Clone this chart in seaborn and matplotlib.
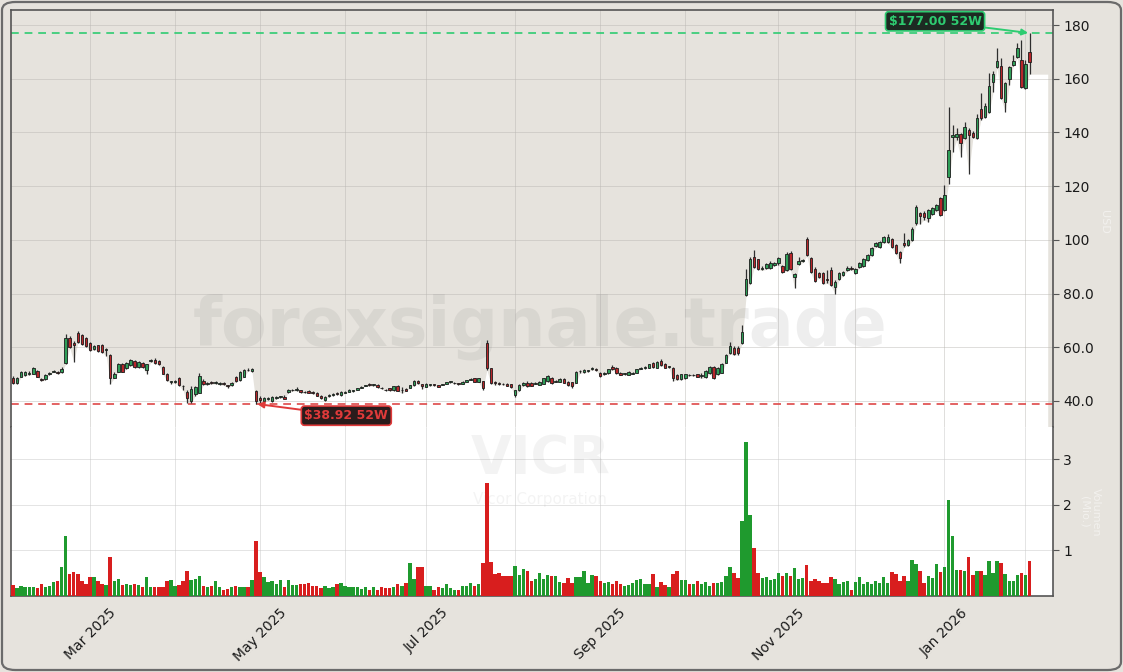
import numpy as np
import pandas as pd
import matplotlib
matplotlib.use("Agg")
import matplotlib.pyplot as plt
import seaborn as sns
from matplotlib.patches import FancyBboxPatch
from matplotlib.ticker import FuncFormatter
from pandas.tseries.offsets import CustomBusinessDay

# ---------------- data ----------------
ticker = "VICR"
company = "Vicor Corporation"
watermark = "forexsignale.trade"
start_date = "2025-02-03"
holidays = ["2025-02-17", "2025-04-18", "2025-05-26", "2025-06-19", "2025-07-04",
            "2025-09-01", "2025-11-27", "2025-12-25", "2026-01-01", "2026-01-19"]

opens = [
    48.7, 46.6, 49.0, 49.6, 50.2, 50.2, 51.2, 48.1, 48.0, 50.2,
    50.9, 50.8, 50.6, 54.0, 63.6, 61.4, 65.4, 64.5, 63.3, 61.7,
    59.4, 60.8, 60.8, 59.0, 57.1, 48.7, 50.9, 53.6, 52.1, 53.3,
    54.8, 52.7, 54.0, 51.5, 55.0, 55.4, 55.0, 52.7, 50.2, 47.0,
    47.0, 48.6, 45.6, 43.4, 40.0, 42.5, 43.0, 47.5, 46.5, 47.2,
    46.8, 46.5, 46.6, 45.8, 45.9, 49.0, 47.8, 49.0, 51.6, 51.3,
    43.8, 41.2, 40.0, 40.6, 39.9, 41.0, 41.5, 41.6, 43.5, 43.9,
    44.1, 44.0, 43.3, 43.7, 43.4, 43.1, 42.0, 40.3, 41.9, 42.3,
    42.9, 42.2, 43.1, 43.4, 43.8, 44.1, 44.9, 45.7, 46.3, 45.9,
    45.9, 44.8, 44.1, 44.9, 44.0, 45.6, 44.0, 44.6, 44.9, 45.9,
    47.4, 46.3, 45.3, 45.8, 46.2, 46.0, 46.1, 46.4, 47.0, 46.6,
    46.4, 46.3, 47.0, 47.9, 48.5, 47.1, 47.3, 61.5, 52.1, 47.0,
    46.6, 46.4, 46.4, 46.2, 42.3, 44.1, 46.0, 46.8, 46.8, 46.5,
    46.0, 46.4, 47.4, 48.4, 47.2, 47.2, 48.2, 47.2, 46.9, 46.8,
    51.0, 50.6, 51.1, 51.8, 51.8, 50.5, 50.1, 50.3, 52.7, 52.2,
    50.5, 50.0, 49.7, 50.2, 50.5, 52.0, 52.3, 52.4, 54.3, 52.4,
    55.0, 53.8, 52.6, 52.4, 49.6, 48.1, 48.4, 49.7, 49.5, 49.9,
    49.3, 48.8, 50.3, 52.8, 50.0, 50.5, 54.3, 57.7, 59.6, 59.9,
    61.5, 79.4, 84.0, 93.7, 92.7, 89.2, 89.4, 89.6, 90.7, 91.2,
    90.2, 88.7, 95.2, 86.0, 91.0, 92.3, 100.5, 93.1, 89.3, 87.5,
    87.5, 85.6, 88.7, 82.3, 85.6, 86.9, 88.7, 89.7, 87.5, 90.0,
    90.2, 92.5, 94.3, 97.7, 97.4, 99.3, 99.3, 100.2, 98.0, 95.6,
    99.0, 98.0, 99.9, 106.1, 110.0, 110.1, 108.0, 109.8, 111.0, 115.4,
    111.1, 123.5, 138.2, 138.2, 139.4, 137.8, 141.0, 139.9, 137.8, 148.9,
    145.9, 147.7, 158.9, 164.5, 164.8, 151.4, 159.9, 165.1, 168.2, 167.0,
    156.4, 169.8]

highs = [
    49.3, 49.0, 51.0, 51.3, 51.0, 52.5, 51.6, 48.6, 50.0, 50.9,
    51.6, 51.3, 52.6, 65.1, 64.2, 62.3, 66.0, 64.9, 63.7, 62.0,
    60.8, 61.0, 61.1, 59.6, 57.6, 50.6, 54.0, 54.2, 54.4, 55.8,
    55.2, 55.0, 54.4, 53.9, 55.6, 56.1, 55.4, 53.0, 50.5, 47.6,
    47.8, 48.9, 46.0, 44.0, 45.5, 45.6, 50.5, 48.0, 47.2, 47.6,
    47.3, 47.0, 47.0, 46.0, 47.0, 49.4, 51.2, 51.8, 52.3, 52.1,
    44.0, 41.9, 41.6, 41.5, 41.9, 41.9, 42.0, 42.1, 44.6, 44.5,
    45.2, 44.2, 43.8, 43.9, 43.6, 43.3, 42.2, 41.9, 42.5, 42.9,
    43.2, 43.8, 43.6, 44.3, 44.2, 44.8, 45.5, 46.1, 46.6, 46.3,
    46.2, 45.1, 44.5, 45.0, 45.6, 45.8, 45.3, 44.9, 46.0, 47.8,
    47.7, 46.5, 46.8, 46.4, 46.3, 46.1, 46.5, 47.2, 47.5, 46.9,
    46.6, 47.3, 47.9, 48.4, 48.6, 48.6, 47.5, 62.7, 52.4, 47.6,
    47.0, 46.8, 46.6, 46.5, 44.2, 46.2, 46.9, 47.3, 47.1, 46.9,
    47.4, 48.6, 49.7, 48.8, 47.7, 48.4, 48.5, 47.5, 47.1, 51.2,
    51.7, 51.8, 51.6, 52.6, 52.2, 50.8, 50.6, 52.0, 53.5, 52.5,
    50.8, 50.5, 51.1, 50.7, 52.0, 52.5, 52.9, 53.9, 54.6, 54.8,
    55.5, 54.1, 53.1, 52.7, 49.9, 50.2, 50.1, 50.0, 49.9, 50.2,
    50.4, 51.5, 53.0, 53.1, 52.6, 54.2, 57.4, 62.0, 60.3, 60.4,
    68.2, 89.3, 93.5, 96.2, 93.0, 90.2, 91.5, 92.0, 91.8, 93.6,
    90.8, 95.5, 96.0, 87.6, 93.5, 93.0, 100.9, 93.5, 89.8, 88.0,
    88.2, 88.7, 90.0, 85.0, 88.2, 88.5, 90.2, 90.1, 89.7, 91.6,
    93.1, 94.7, 97.2, 99.3, 99.7, 101.3, 102.2, 100.6, 98.4, 96.0,
    102.5, 100.3, 104.6, 113.0, 110.5, 110.6, 111.5, 112.1, 113.5, 116.0,
    120.4, 149.6, 142.8, 141.6, 139.9, 144.0, 141.5, 140.4, 147.0, 154.8,
    151.0, 162.0, 163.0, 171.3, 167.6, 158.8, 164.9, 169.0, 173.2, 174.6,
    167.0, 177.0]

lows = [
    46.5, 46.3, 48.8, 49.4, 49.6, 50.0, 48.8, 47.3, 47.8, 49.8,
    50.6, 50.0, 50.4, 53.8, 59.8, 54.6, 61.7, 60.9, 60.1, 58.6,
    59.0, 58.4, 58.0, 56.9, 46.5, 48.4, 50.6, 50.6, 51.8, 53.0,
    52.4, 52.4, 52.4, 50.0, 54.6, 53.8, 53.4, 49.9, 47.5, 46.5,
    46.6, 45.6, 43.9, 39.2, 39.2, 42.0, 42.8, 45.9, 46.0, 46.2,
    46.3, 46.0, 45.8, 44.9, 45.6, 47.1, 47.6, 48.8, 51.1, 50.9,
    38.92, 39.4, 39.5, 40.2, 39.6, 40.7, 41.2, 40.6, 43.1, 43.6,
    43.8, 43.1, 42.8, 43.0, 42.7, 41.8, 40.9, 40.0, 41.6, 42.0,
    42.4, 42.0, 42.8, 43.2, 43.5, 43.9, 44.7, 45.4, 45.5, 45.6,
    45.0, 44.3, 43.8, 43.8, 43.8, 43.6, 42.9, 43.6, 44.7, 45.7,
    46.4, 44.6, 45.1, 45.6, 45.6, 45.1, 45.9, 46.2, 46.8, 46.3,
    46.0, 46.2, 46.9, 47.8, 47.0, 47.0, 44.2, 51.5, 46.5, 46.0,
    46.1, 45.9, 45.5, 45.0, 41.6, 43.8, 45.6, 45.2, 45.4, 46.2,
    45.8, 46.2, 47.2, 46.4, 46.9, 47.0, 46.6, 45.7, 45.0, 46.6,
    50.5, 50.4, 50.8, 51.6, 51.3, 48.9, 49.8, 50.1, 51.6, 50.1,
    49.5, 49.8, 49.5, 50.0, 50.3, 51.8, 52.0, 52.2, 52.3, 52.2,
    53.2, 52.2, 52.3, 47.5, 47.8, 47.9, 48.2, 49.3, 49.2, 48.8,
    48.4, 48.6, 50.1, 48.2, 49.8, 50.3, 54.1, 57.5, 57.0, 57.3,
    61.2, 79.0, 83.6, 89.6, 88.9, 88.6, 89.0, 89.3, 90.2, 90.8,
    87.7, 88.3, 88.6, 81.9, 90.5, 91.6, 93.9, 87.6, 84.4, 85.8,
    83.4, 83.8, 82.7, 80.0, 85.2, 86.5, 88.3, 88.7, 87.1, 89.6,
    89.8, 92.1, 93.9, 97.3, 97.0, 98.9, 98.9, 97.0, 94.8, 91.2,
    97.5, 97.6, 99.5, 105.7, 106.0, 107.5, 106.5, 109.4, 110.6, 108.8,
    110.7, 120.8, 132.8, 137.0, 131.0, 137.4, 124.7, 137.8, 137.4, 144.8,
    145.5, 147.3, 155.0, 164.1, 152.5, 147.7, 157.5, 164.7, 167.8, 156.5,
    156.0, 161.7]

closes = [
    46.8, 48.7, 50.6, 50.9, 50.4, 52.1, 49.0, 47.7, 49.6, 50.5,
    51.2, 50.5, 51.8, 63.3, 60.2, 61.0, 62.0, 61.2, 60.4, 58.9,
    60.6, 58.7, 58.3, 59.2, 48.7, 50.2, 53.6, 50.9, 54.0, 55.4,
    52.7, 54.6, 52.7, 53.6, 55.2, 54.2, 53.7, 50.2, 47.8, 47.1,
    47.1, 45.9, 45.4, 41.0, 44.5, 45.3, 49.2, 46.5, 46.8, 46.7,
    46.9, 46.6, 46.2, 45.5, 46.8, 47.4, 50.9, 51.5, 51.4, 51.9,
    39.9, 40.4, 41.2, 41.0, 41.6, 41.5, 41.7, 40.9, 43.9, 44.1,
    44.3, 43.3, 43.2, 43.1, 42.8, 42.0, 41.2, 41.6, 42.2, 42.5,
    42.6, 43.4, 43.2, 44.0, 43.9, 44.7, 45.2, 45.8, 45.8, 45.9,
    45.1, 44.7, 44.0, 44.1, 45.5, 43.8, 44.1, 43.8, 45.9, 47.5,
    46.6, 45.6, 46.5, 46.3, 45.9, 45.2, 46.3, 47.0, 47.1, 46.7,
    46.3, 47.1, 47.8, 48.0, 47.1, 48.5, 45.0, 52.3, 46.8, 46.7,
    46.5, 46.2, 45.7, 45.3, 43.9, 45.9, 46.8, 45.4, 45.6, 46.6,
    47.1, 48.4, 49.3, 46.6, 47.4, 48.2, 46.8, 45.9, 45.7, 50.9,
    51.1, 51.5, 51.2, 52.1, 51.5, 49.2, 50.3, 51.8, 51.8, 50.3,
    49.7, 50.2, 50.9, 50.4, 51.8, 52.2, 52.6, 53.7, 52.5, 54.6,
    53.4, 52.4, 52.8, 48.4, 48.1, 49.9, 49.9, 49.6, 49.6, 49.0,
    49.5, 51.3, 52.8, 48.4, 52.4, 53.8, 57.1, 60.4, 57.4, 57.7,
    65.8, 85.6, 92.7, 90.0, 89.3, 89.6, 91.0, 91.5, 91.2, 93.1,
    88.1, 94.7, 89.0, 87.2, 92.3, 92.6, 94.3, 88.1, 84.8, 86.3,
    83.8, 85.0, 83.1, 84.4, 87.7, 88.1, 89.6, 89.1, 89.3, 91.2,
    92.7, 94.3, 96.8, 98.9, 99.3, 100.9, 101.1, 97.4, 95.2, 93.1,
    98.2, 99.9, 104.2, 112.3, 108.8, 108.6, 111.1, 111.7, 113.1, 109.2,
    116.7, 133.4, 139.0, 139.4, 135.9, 142.1, 139.0, 138.2, 145.2, 145.2,
    149.8, 157.3, 161.7, 166.6, 152.9, 158.3, 164.5, 166.6, 171.3, 157.0,
    165.5, 166.3]

volume_m = [
    0.23, 0.17, 0.21, 0.18, 0.18, 0.18, 0.17, 0.25, 0.19, 0.21,
    0.29, 0.32, 0.63, 1.31, 0.47, 0.52, 0.47, 0.33, 0.25, 0.41,
    0.41, 0.32, 0.25, 0.23, 0.85, 0.32, 0.36, 0.23, 0.25, 0.24,
    0.25, 0.23, 0.18, 0.41, 0.18, 0.18, 0.18, 0.18, 0.32, 0.34,
    0.22, 0.23, 0.32, 0.54, 0.34, 0.36, 0.43, 0.21, 0.18, 0.21,
    0.32, 0.18, 0.13, 0.14, 0.18, 0.21, 0.18, 0.18, 0.18, 0.34,
    1.20, 0.52, 0.41, 0.30, 0.32, 0.25, 0.34, 0.18, 0.34, 0.23,
    0.23, 0.25, 0.25, 0.27, 0.21, 0.21, 0.16, 0.21, 0.16, 0.19,
    0.25, 0.27, 0.21, 0.18, 0.18, 0.18, 0.15, 0.18, 0.13, 0.18,
    0.13, 0.18, 0.16, 0.16, 0.19, 0.25, 0.21, 0.27, 0.71, 0.36,
    0.63, 0.63, 0.21, 0.21, 0.12, 0.18, 0.16, 0.25, 0.16, 0.13,
    0.13, 0.21, 0.21, 0.27, 0.21, 0.25, 0.71, 2.47, 0.74, 0.47,
    0.50, 0.43, 0.43, 0.43, 0.65, 0.45, 0.58, 0.55, 0.32, 0.36,
    0.49, 0.36, 0.45, 0.43, 0.43, 0.30, 0.27, 0.39, 0.27, 0.41,
    0.41, 0.54, 0.28, 0.45, 0.43, 0.32, 0.27, 0.30, 0.25, 0.32,
    0.25, 0.21, 0.23, 0.27, 0.34, 0.36, 0.25, 0.25, 0.47, 0.18,
    0.30, 0.23, 0.18, 0.47, 0.54, 0.34, 0.34, 0.25, 0.25, 0.32,
    0.25, 0.29, 0.21, 0.27, 0.27, 0.30, 0.43, 0.63, 0.49, 0.38,
    1.64, 3.37, 1.78, 1.04, 0.49, 0.38, 0.40, 0.34, 0.36, 0.49,
    0.43, 0.49, 0.43, 0.60, 0.36, 0.38, 0.67, 0.31, 0.36, 0.31,
    0.27, 0.27, 0.40, 0.36, 0.25, 0.29, 0.33, 0.13, 0.29, 0.40,
    0.25, 0.29, 0.25, 0.33, 0.27, 0.40, 0.27, 0.51, 0.47, 0.33,
    0.43, 0.33, 0.79, 0.69, 0.54, 0.27, 0.43, 0.38, 0.69, 0.51,
    0.63, 2.10, 1.31, 0.57, 0.57, 0.55, 0.85, 0.45, 0.55, 0.54,
    0.45, 0.75, 0.49, 0.75, 0.71, 0.47, 0.33, 0.33, 0.45, 0.49,
    0.45, 0.75]

price_ticks = [40, 60, 80, 100, 120, 140, 160, 180]
volume_ticks = [1, 2, 3]

# ---------------- styling ----------------
BG = "#e6e3dd"
GREEN_BODY = "#2f9e58"
RED_BODY = "#b8262a"
WICK = "#2e2e2e"
VOL_GREEN = "#1f9a2e"
VOL_RED = "#d81e1e"
SPINE = "#555555"

sns.set_style("white")
plt.rcParams["font.family"] = ["DejaVu Sans"]

o = np.array(opens); h = np.array(highs); l = np.array(lows); c = np.array(closes)
vol = np.array(volume_m)
n = len(c)
idx = np.arange(n)
dates = pd.date_range(start_date, periods=n, freq=CustomBusinessDay(holidays=holidays))
up = c >= o

fig = plt.figure(figsize=(11.23, 6.72), dpi=100, facecolor=BG)
W, H = 1123.0, 672.0
axp = fig.add_axes([11 / W, 1 - 427 / H, 1042 / W, 417 / H])
axv = fig.add_axes([11 / W, 1 - 595.5 / H, 1042 / W, 168.5 / H], sharex=axp)

# ---- price panel ----
axp.set_facecolor(BG)
axp.set_axisbelow(True)
x_end = n + 3.5
fx = np.concatenate([[-0.5], idx, [x_end]])
fl = np.concatenate([[l[0]], l, [l[-1]]])
axp.fill_between(fx, fl, 0, color="white", lw=0, zorder=0.3)

axp.vlines(idx, l, h, color=WICK, lw=0.9, zorder=3)
body_bottom = np.minimum(o, c)
body_h = np.maximum(np.abs(c - o), 0.25)
axp.bar(idx, body_h, bottom=body_bottom, width=0.62,
        color=np.where(up, GREEN_BODY, RED_BODY), edgecolor="#1c1c1c",
        linewidth=0.6, zorder=4)

hi_i = int(np.argmax(h)); lo_i = int(np.argmin(l))
hi_v = h[hi_i]; lo_v = l[lo_i]
axp.axhline(hi_v, color="#2ecc71", ls=(0, (4, 3)), lw=1.4, alpha=0.85, zorder=2)
axp.axhline(lo_v, color="#e05252", ls=(0, (4, 3)), lw=1.4, alpha=0.9, zorder=2)

axp.annotate(f"${hi_v:.2f} 52W", xy=(hi_i, hi_v), xytext=(-68, 8.5),
             textcoords="offset points", ha="center", va="center",
             fontsize=9, fontweight="bold", color="#2ecc71",
             bbox=dict(boxstyle="round,pad=0.25", fc="#1d2a22", ec="#2ecc71", lw=1.2),
             arrowprops=dict(arrowstyle="-|>", color="#2ecc71", lw=1.4,
                             shrinkA=0, shrinkB=1, mutation_scale=9), zorder=10)
axp.annotate(f"${lo_v:.2f} 52W", xy=(lo_i, lo_v), xytext=(65, -8.5),
             textcoords="offset points", ha="center", va="center",
             fontsize=9, fontweight="bold", color="#e03a3a",
             bbox=dict(boxstyle="round,pad=0.25", fc="#2a1c1c", ec="#e03a3a", lw=1.2),
             arrowprops=dict(arrowstyle="-|>", color="#e03a3a", lw=1.4,
                             shrinkA=0, shrinkB=1, mutation_scale=9), zorder=10)

axp.text(0.508, 0.24, watermark, transform=axp.transAxes, ha="center", va="center",
         fontsize=48, fontweight="bold", color="#808080", alpha=0.13, zorder=1)

axp.set_ylim(30.3, 185.6)
axp.set_yticks(price_ticks)
axp.yaxis.set_major_formatter(FuncFormatter(lambda v, p: f"{v:.0f}" if v >= 100 else f"{v:.1f}"))
axp.yaxis.tick_right()
axp.tick_params(axis="y", labelsize=10, length=4, color=SPINE, labelcolor="#1a1a1a")
axp.tick_params(axis="x", labelbottom=False, length=0)
axp.grid(True, color="#b8b5b0", lw=0.7, alpha=0.45)
for s in ["left", "top", "right"]:
    axp.spines[s].set_color(SPINE); axp.spines[s].set_linewidth(1.2)
axp.spines["bottom"].set_visible(False)

# ---- volume panel ----
axv.set_facecolor("white")
axv.set_axisbelow(True)
vdf = pd.DataFrame({"idx": idx, "vol": vol, "dir": np.where(up, "up", "down")})
sns.barplot(data=vdf, x="idx", y="vol", hue="dir", palette={"up": VOL_GREEN, "down": VOL_RED},
            native_scale=True, dodge=False, width=0.85, saturation=1, errorbar=None,
            linewidth=0, legend=False, ax=axv, zorder=3)
axv.set_xlabel(""); axv.set_ylabel("")
axv.set_ylim(0, 3.71)
axv.set_yticks(volume_ticks)
axv.yaxis.tick_right()
axv.tick_params(axis="y", labelsize=10, length=4, color=SPINE, labelcolor="#1a1a1a")
axv.grid(True, color="#c8c8c8", lw=0.7, alpha=0.5)
for s in ["left", "bottom", "right"]:
    axv.spines[s].set_color(SPINE); axv.spines[s].set_linewidth(1.2)
axv.spines["top"].set_visible(False)

axv.text(0.508, 0.81, ticker, transform=axv.transAxes, ha="center", va="center",
         fontsize=38, fontweight="bold", color="#808080", alpha=0.09, zorder=1)
axv.text(0.508, 0.57, company, transform=axv.transAxes, ha="center", va="center",
         fontsize=11, color="#808080", alpha=0.09, zorder=1)

# month ticks at first trading day of each month
month_start = [i for i in range(1, n) if dates[i].month != dates[i - 1].month]
labels = [dates[i].strftime("%b %Y") if dates[i].month % 2 == 1 else "" for i in month_start]
axv.set_xticks(month_start)
axv.set_xticklabels(labels, rotation=45, fontsize=10, color="#1a1a1a")
axv.tick_params(axis="x", length=4, color=SPINE)
axp.set_xlim(-0.5, n + 4.8)

# faint axis captions
fig.text(1104 / W, 1 - 222 / H, "USD", rotation=270, ha="center", va="center",
         fontsize=8, color="white", alpha=0.5)
fig.text(1090 / W, 1 - 512 / H, "Volumen\n(Mio.)", rotation=270, ha="center", va="center",
         fontsize=8, color="white", alpha=0.5)

# rounded figure frame
frame = FancyBboxPatch((2 / W, 2 / H), 1 - 4 / W, 1 - 4 / H,
                       boxstyle="round,pad=0,rounding_size=0.012",
                       transform=fig.transFigure, fc="none", ec="#6b6b6b", lw=1.6, zorder=20)
fig.patches.append(frame)

fig.savefig("out.png", dpi=100, facecolor=BG)
